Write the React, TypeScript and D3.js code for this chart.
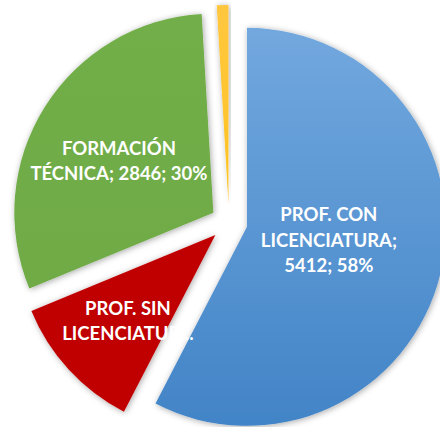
import React from "react";
import * as d3 from "d3";

const categories = ["PROF. CON LICENCIATURA", "PROF. SIN LICENCIATURA", "FORMACIÓN TÉCNICA", "OTROS"];
const values = [5412, 1050, 2846, 88];
const labelLines = [
  ["PROF. CON", "LICENCIATURA;", "5412; 58%"],
  ["PROF. SIN", "LICENCIATUR..."],
  ["FORMACIÓN", "TÉCNICA; 2846; 30%"],
  [],
];
const colorsTop = ["#72A8DE", "#C00000", "#72AE48", "#FFC73F"];
const colorsBottom = ["#4284C7", "#C00000", "#6DA944", "#FFBE00"];

const W = 440;
const H = 427;
const CX = 229;
const CY = 222.5;
const R = 199;
const EXPLODE = 18.5;
// label placement (radius, angle offset in degrees) relative to each slice's own vertex
const labelRadius = [83, 122.6, 107.5, 0];
const labelAngleOffset = [-4.3, -2, -3.5, 0];

export default function App() {
  const pie = d3.pie<number>().sort(null).value((d) => d).startAngle(0).endAngle(2 * Math.PI);
  const arcs = pie(values);
  const arc = d3.arc<d3.PieArcDatum<number>>().innerRadius(0).outerRadius(R);

  return (
    <svg width={W} height={H} style={{ position: "absolute", left: 0, top: 0 }} xmlns="http://www.w3.org/2000/svg">
      <defs>
        <filter id="shadow" x="-20%" y="-20%" width="140%" height="140%">
          <feDropShadow dx="1" dy="1" stdDeviation="3" floodColor="#000" floodOpacity="0.35" />
        </filter>
        {categories.map((c, i) => (
          <linearGradient key={c} id={`g${i}`} gradientUnits="userSpaceOnUse" x1="0" y1={-R} x2="0" y2={R}>
            <stop offset="0" stopColor={colorsTop[i]} />
            <stop offset="1" stopColor={colorsBottom[i]} />
          </linearGradient>
        ))}
      </defs>
      <rect width={W} height={H} fill="#fff" />
      {arcs.map((a, i) => {
        const mid = (a.startAngle + a.endAngle) / 2;
        const ox = CX + EXPLODE * Math.sin(mid);
        const oy = CY - EXPLODE * Math.cos(mid);
        return (
          <g key={categories[i]} transform={`translate(${ox},${oy})`} filter="url(#shadow)">
            <path d={arc(a) || ""} fill={`url(#g${i})`} />
          </g>
        );
      })}
      {arcs.map((a, i) => {
        const lines = labelLines[i];
        if (!lines.length) return null;
        const mid = (a.startAngle + a.endAngle) / 2;
        const ox = CX + EXPLODE * Math.sin(mid);
        const oy = CY - EXPLODE * Math.cos(mid);
        const la = mid + (labelAngleOffset[i] * Math.PI) / 180;
        const lx = ox + labelRadius[i] * Math.sin(la);
        const ly = oy - labelRadius[i] * Math.cos(la);
        const lh = 25.5;
        const y0 = ly - ((lines.length - 1) * lh) / 2;
        return (
          <text
            key={`l${i}`}
            x={lx}
            textAnchor="middle"
            fill="#fff"
            fontFamily="Lato, 'Open Sans', sans-serif"
            fontWeight="bold"
            fontSize={18.5}
          >
            {lines.map((t, j) => (
              <tspan key={j} x={lx} y={y0 + j * lh} dy="0.35em">
                {t}
              </tspan>
            ))}
          </text>
        );
      })}
    </svg>
  );
}
